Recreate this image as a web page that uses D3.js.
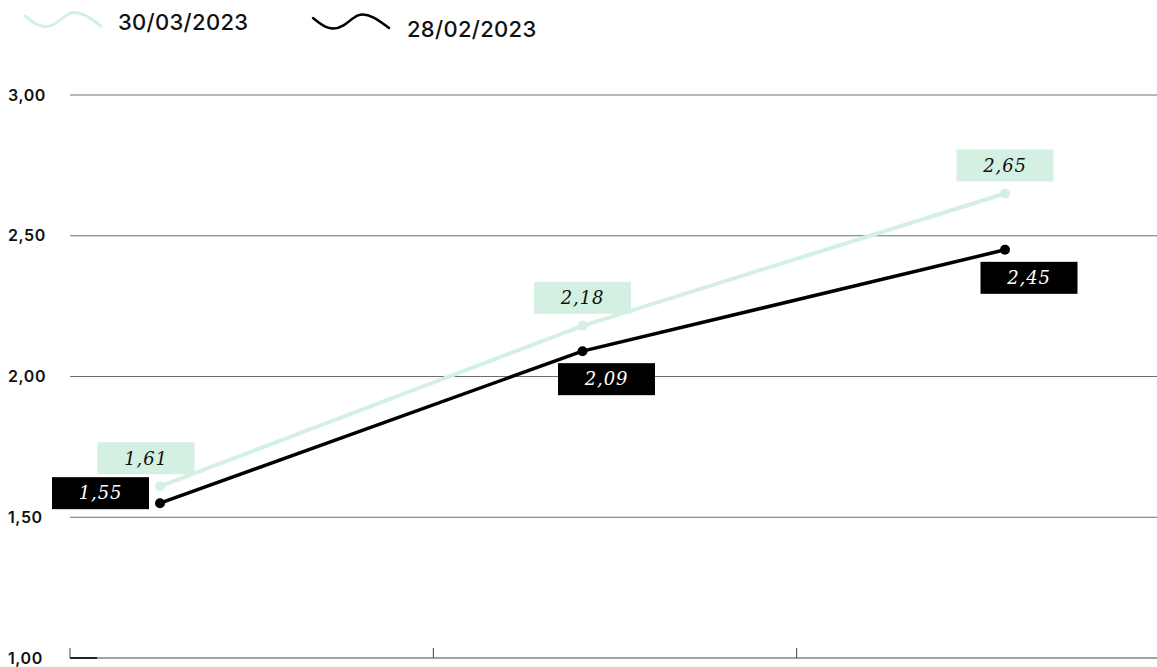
<!DOCTYPE html>
<html>
<head>
<meta charset="utf-8">
<script src="https://cdn.jsdelivr.net/npm/d3@7"></script>
<style>
  html, body { margin: 0; padding: 0; background: #fff; }
  svg { display: block; }
  .ytick { font-family: Inter, "Noto Sans", sans-serif; font-weight: 600; font-size: 16px; letter-spacing: 0.6px; fill: #111; }
  .legend-text { font-family: Inter, "Noto Sans", sans-serif; font-weight: 500; font-size: 22px; letter-spacing: 0.3px; fill: #111; }
  .val { font-family: "DejaVu Serif", serif; font-style: italic; font-size: 18px; letter-spacing: 0.8px; }
</style>
</head>
<body>
<svg id="chart" width="1157" height="667"></svg>
<script>
// Periods on the horizontal axis (not labelled)
const categories = ["P1", "P2", "P3"];
// Series values
const seriesMarch = [1.61, 2.18, 2.65];   // 30/03/2023
const seriesFeb   = [1.55, 2.09, 2.45];   // 28/02/2023
const seriesNames = ["30/03/2023", "28/02/2023"];
const yTicks = [1.0, 1.5, 2.0, 2.5, 3.0];

const W = 1157, H = 667;
const svg = d3.select("#chart");
const fmt = v => d3.format(".2f")(v).replace(".", ",");

const y = d3.scaleLinear().domain([1, 3]).range([658, 95]);
const xBand = d3.scaleBand().domain(categories).range([70, 1160]);
const x = d3.scalePoint().domain(categories).range([160, 1005]);

// Horizontal grid lines
svg.append("g").selectAll("line").data(yTicks.filter(t => t > 1)).join("line")
  .attr("x1", 70).attr("x2", W)
  .attr("y1", d => y(d)).attr("y2", d => y(d))
  .attr("stroke", "#6e6e6e").attr("stroke-width", 1);

// Baseline with band-edge ticks
svg.append("line").attr("x1", 70).attr("x2", W).attr("y1", y(1)).attr("y2", y(1))
  .attr("stroke", "#444").attr("stroke-width", 1.2);
svg.append("line").attr("x1", 70).attr("x2", 97).attr("y1", y(1)).attr("y2", y(1))
  .attr("stroke", "#222").attr("stroke-width", 2);
svg.append("g").selectAll("line").data(categories).join("line")
  .attr("x1", d => xBand(d)).attr("x2", d => xBand(d))
  .attr("y1", y(1) - 10).attr("y2", y(1))
  .attr("stroke", "#444").attr("stroke-width", 1);

// Y tick labels
svg.append("g").selectAll("text").data(yTicks).join("text")
  .attr("class", "ytick")
  .attr("x", 8).attr("y", d => y(d)).attr("dy", "0.35em")
  .text(d => fmt(d));

const colors = ["#d4f0e2", "#000000"];
const widths = [4, 3.5];
const series = [seriesMarch, seriesFeb];

// Lines and points
series.forEach((vals, si) => {
  const line = d3.line().x((d, i) => x(categories[i])).y(d => y(d));
  svg.append("path").datum(vals)
    .attr("d", line).attr("fill", "none")
    .attr("stroke", colors[si]).attr("stroke-width", widths[si])
    .attr("stroke-linejoin", "round");
  svg.append("g").selectAll("circle").data(vals).join("circle")
    .attr("cx", (d, i) => x(categories[i])).attr("cy", d => y(d))
    .attr("r", 5).attr("fill", colors[si]);
});

// Value boxes
const boxW = 97, boxH = 32;
function boxPos(si, i, px, py) {
  if (si === 0) return [px - boxW / 2 - (i === 0 ? 14 : 0), py - 12 - boxH];
  if (i === 0) return [px - 11 - boxW, py - 10 - boxH / 2];
  return [px - boxW / 2 + 24, py + 12];
}
series.forEach((vals, si) => {
  const g = svg.append("g");
  vals.forEach((v, i) => {
    const px = x(categories[i]), py = y(v);
    const [bx, by] = boxPos(si, i, px, py);
    g.append("rect").attr("x", bx).attr("y", by).attr("width", boxW).attr("height", boxH)
      .attr("fill", colors[si]);
    g.append("text").attr("class", "val")
      .attr("x", bx + boxW / 2).attr("y", by + boxH / 2).attr("dy", "0.35em")
      .attr("text-anchor", "middle")
      .attr("fill", si === 0 ? "#111" : "#fff")
      .text(fmt(v));
  });
});

// Legend with wavy swatches
const wave = d3.line().curve(d3.curveBasis);
const legendItems = [
  { x: 25, y: 20, tx: 118, ty: 30 },
  { x: 313, y: 22, tx: 407, ty: 37 }
];
legendItems.forEach((it, si) => {
  const pts = [[it.x, it.y - 4], [it.x + 15, it.y + 8], [it.x + 30, it.y + 6],
               [it.x + 45, it.y - 10], [it.x + 60, it.y - 6], [it.x + 76, it.y + 6]];
  svg.append("path").attr("d", wave(pts)).attr("fill", "none")
    .attr("stroke", colors[si]).attr("stroke-width", si === 0 ? 3 : 2.5)
    .attr("stroke-linecap", "round");
  svg.append("text").attr("class", "legend-text")
    .attr("x", it.tx).attr("y", it.ty).text(seriesNames[si]);
});
</script>
</body>
</html>
